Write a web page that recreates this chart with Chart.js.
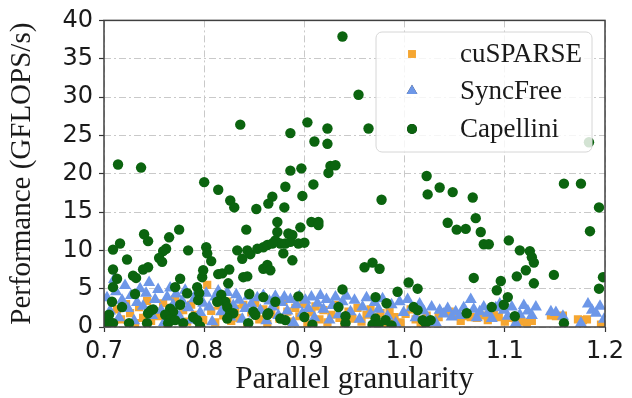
<!DOCTYPE html>
<html>
<head>
<meta charset="utf-8">
<script src="https://cdn.jsdelivr.net/npm/chart.js@4.4.0/dist/chart.umd.min.js"></script>
<style>
  html, body { margin: 0; padding: 0; background: #fff; }
</style>
</head>
<body>
<canvas id="chart" width="632" height="398"></canvas>
<script>
// series names and axis ticks
const seriesNames = ['cuSPARSE', 'SyncFree', 'Capellini'];
const xTicks = [0.7, 0.8, 0.9, 1.0, 1.1, 1.2];
const yTicks = [0, 5, 10, 15, 20, 25, 30, 35, 40];

// [parallel granularity, GFLOPS/s]
const cusparsePts = [
    [0.704, 1.5], [0.708, 0.6], [0.713, 2.3], [0.717, 1.0], [0.722, 3.0], [0.726, 1.8], [0.731, 0.5],
    [0.735, 2.6], [0.739, 1.2], [0.743, 3.4], [0.747, 0.8], [0.751, 2.0], [0.755, 1.4], [0.759, 3.1],
    [0.763, 0.4], [0.767, 2.5], [0.771, 3.6], [0.775, 1.1], [0.779, 2.2], [0.783, 0.7], [0.787, 2.9],
    [0.791, 1.6], [0.795, 3.8], [0.799, 0.9], [0.803, 5.5], [0.807, 2.1], [0.811, 0.6], [0.815, 2.8],
    [0.819, 1.5], [0.823, 3.3], [0.827, 0.8], [0.831, 2.4], [0.835, 1.2], [0.839, 2.9], [0.843, 0.5],
    [0.847, 1.9], [0.851, 3.1], [0.855, 1.0], [0.859, 2.3], [0.863, 0.4], [0.867, 1.7], [0.871, 2.8],
    [0.875, 1.1], [0.879, 3.4], [0.883, 2.0], [0.887, 0.7], [0.891, 2.5], [0.895, 1.4], [0.899, 3.0],
    [0.903, 0.5], [0.907, 1.9], [0.911, 2.7], [0.915, 1.0], [0.919, 2.2], [0.923, 0.6], [0.927, 1.6],
    [0.931, 2.9], [0.935, 1.2], [0.940, 0.4], [0.944, 2.0], [0.948, 1.1], [0.953, 2.5], [0.957, 0.7],
    [0.962, 1.6], [0.966, 2.3], [0.971, 0.9], [0.976, 1.8], [0.980, 0.5], [0.985, 2.1], [0.990, 1.3],
    [0.996, 0.6], [1.001, 1.7], [1.006, 2.3], [1.011, 1.0], [1.016, 0.4], [1.022, 1.5], [1.028, 0.7],
    [1.034, 1.3], [1.040, 1.9], [1.045, 2.0], [1.050, 1.6], [1.056, 0.8], [1.061, 1.4], [1.066, 1.3],
    [1.072, 1.2], [1.078, 1.5], [1.083, 0.9], [1.089, 1.7], [1.094, 1.3], [1.100, 0.7], [1.105, 1.2],
    [1.111, 0.6], [1.116, 0.7], [1.122, 0.6], [1.127, 0.8], [1.146, 1.5], [1.151, 1.4], [1.158, 1.5],
    [1.173, 1.0], [1.178, 0.9], [1.182, 1.0], [1.196, 0.3]
];

const syncfreePts = [
    [0.703, 3.8], [0.706, 2.1], [0.710, 6.2], [0.712, 4.6], [0.715, 1.2], [0.718, 3.5], [0.721, 5.4],
    [0.724, 2.4], [0.727, 4.1], [0.730, 0.8], [0.733, 3.2], [0.736, 5.0], [0.739, 2.7], [0.742, 4.4],
    [0.745, 5.8], [0.748, 1.5], [0.751, 3.6], [0.754, 4.9], [0.757, 2.2], [0.760, 0.6], [0.763, 3.9],
    [0.766, 5.1], [0.769, 2.9], [0.772, 4.3], [0.775, 1.4], [0.778, 3.4], [0.781, 4.8], [0.784, 2.5],
    [0.787, 0.9], [0.790, 3.7], [0.793, 4.6], [0.796, 1.9], [0.799, 3.1], [0.802, 4.4], [0.805, 2.6],
    [0.808, 0.7], [0.811, 3.9], [0.814, 4.7], [0.817, 2.0], [0.820, 3.3], [0.823, 4.5], [0.826, 1.3],
    [0.829, 2.8], [0.832, 4.2], [0.835, 3.5], [0.838, 1.0], [0.841, 2.4], [0.844, 4.0], [0.847, 3.0],
    [0.850, 1.7], [0.853, 3.8], [0.856, 2.2], [0.859, 4.1], [0.862, 0.8], [0.865, 3.4], [0.868, 2.6],
    [0.871, 4.0], [0.874, 1.5], [0.877, 3.2], [0.880, 3.9], [0.883, 2.1], [0.886, 3.6], [0.889, 0.6],
    [0.892, 2.9], [0.895, 4.0], [0.898, 1.8], [0.901, 3.5], [0.904, 2.4], [0.907, 3.9], [0.910, 1.2],
    [0.913, 3.1], [0.916, 4.1], [0.919, 2.3], [0.922, 3.6], [0.925, 0.9], [0.928, 2.8], [0.931, 3.9],
    [0.934, 1.6], [0.938, 3.3], [0.942, 4.0], [0.946, 2.0], [0.950, 3.5], [0.955, 1.0], [0.958, 2.6],
    [0.962, 3.8], [0.966, 1.7], [0.970, 3.2], [0.974, 2.3], [0.978, 3.7], [0.983, 1.4], [0.987, 2.9],
    [0.991, 0.5], [0.995, 3.3], [0.999, 1.9], [1.003, 3.6], [1.007, 2.5], [1.011, 1.2], [1.015, 3.0],
    [1.019, 2.1], [1.023, 1.0], [1.027, 2.6], [1.031, 0.6], [1.035, 2.2], [1.039, 1.7], [1.043, 2.4],
    [1.047, 1.3], [1.051, 2.0], [1.055, 1.5], [1.059, 2.5], [1.066, 3.6], [1.069, 2.3], [1.072, 1.2],
    [1.075, 2.0], [1.079, 2.6], [1.083, 1.8], [1.087, 1.1], [1.091, 2.5], [1.095, 3.0], [1.099, 2.2],
    [1.103, 1.4], [1.107, 2.6], [1.111, 0.5], [1.115, 1.6], [1.119, 2.8], [1.123, 2.1], [1.127, 1.5],
    [1.131, 2.6], [1.146, 2.0], [1.151, 1.9], [1.158, 1.4], [1.176, 0.5], [1.183, 3.0], [1.187, 2.2],
    [1.191, 1.8], [1.195, 2.7], [1.199, 1.0]
];

const capelliniPts = [
    [0.938, 37.9], [0.954, 30.3], [0.836, 26.4], [0.903, 26.7], [0.886, 25.3], [0.923, 25.9], [0.964, 25.9],
    [0.910, 24.2], [0.923, 23.9], [0.714, 21.2], [0.737, 20.8], [0.886, 20.4], [0.897, 20.7], [0.926, 21.0],
    [0.931, 21.1], [0.924, 20.1], [0.800, 18.9], [0.814, 17.9], [0.881, 18.3], [0.909, 18.6], [0.868, 17.0],
    [0.898, 17.1], [0.826, 16.5], [0.830, 15.6], [0.852, 15.4], [0.864, 16.1], [0.880, 15.6], [0.977, 16.6],
    [1.022, 19.7], [1.023, 17.3], [1.035, 18.2], [1.048, 17.6], [1.068, 16.9], [1.159, 18.7], [1.176, 18.7],
    [1.184, 24.1], [1.194, 15.6], [1.185, 12.5],
    [1.071, 14.2], [1.043, 13.6], [1.052, 12.7], [1.061, 12.8], [1.076, 12.4], [1.079, 10.8], [1.084, 10.8],
    [1.104, 11.3], [1.115, 10.0], [1.125, 9.9], [1.127, 9.1], [1.129, 8.4], [1.121, 7.4], [1.112, 6.6],
    [1.129, 5.7], [1.149, 6.8], [1.069, 6.4], [1.096, 6.0], [1.092, 4.8], [1.103, 3.9], [1.099, 2.9],
    [1.087, 2.6], [1.062, 1.8], [1.110, 1.4], [1.159, 0.5], [1.198, 6.5], [1.194, 5.0],
    [0.960, 7.8], [0.968, 8.4], [0.975, 7.6], [1.004, 5.8], [1.013, 5.0], [0.993, 4.6], [0.971, 3.9],
    [0.982, 3.1], [0.938, 4.9], [0.934, 2.6], [0.941, 1.4], [0.941, 0.5], [0.971, 1.1], [0.981, 0.9],
    [1.009, 2.6], [1.013, 2.2], [1.018, 0.9], [1.026, 0.9], [1.021, 0.5], [0.968, 0.3], [0.974, 0.3],
    [0.987, 0.2], [0.908, 0.3], [0.900, 1.3], [0.894, 4.0], [0.871, 3.3], [0.864, 1.8], [0.876, 1.1],
    [0.881, 0.9],
    [0.842, 12.7], [0.775, 12.7], [0.740, 12.1], [0.744, 11.2], [0.765, 11.7], [0.716, 10.9], [0.709, 10.1],
    [0.762, 10.2], [0.759, 9.9], [0.784, 10.0], [0.802, 10.4], [0.803, 9.6], [0.723, 8.8], [0.755, 9.0],
    [0.758, 8.5], [0.807, 8.6], [0.833, 10.0], [0.838, 8.9], [0.843, 10.0], [0.846, 9.5], [0.853, 10.2],
    [0.859, 10.4], [0.863, 10.7], [0.739, 7.5], [0.744, 7.8], [0.709, 7.5], [0.729, 6.7], [0.732, 6.4],
    [0.713, 6.3], [0.776, 6.3], [0.798, 6.5], [0.799, 7.4], [0.814, 6.9], [0.818, 7.0], [0.825, 7.5],
    [0.839, 6.5], [0.843, 6.6], [0.859, 7.6], [0.873, 13.7], [0.896, 13.0], [0.907, 13.7], [0.914, 13.7],
    [0.914, 13.3], [0.873, 12.4], [0.884, 12.2], [0.888, 12.0], [0.871, 11.3], [0.876, 10.9], [0.868, 10.9],
    [0.881, 10.9], [0.886, 11.1], [0.894, 10.9], [0.900, 11.0], [0.879, 9.6], [0.888, 8.7], [0.863, 8.1],
    [0.866, 7.4],
    [0.824, 5.7], [0.709, 5.2], [0.731, 4.3], [0.771, 5.2], [0.783, 4.4], [0.793, 5.2], [0.795, 4.4],
    [0.794, 3.5], [0.817, 4.2], [0.821, 3.3], [0.823, 2.6], [0.826, 1.8], [0.845, 4.3], [0.859, 3.9],
    [0.708, 3.3], [0.718, 2.6], [0.747, 2.2], [0.749, 2.3], [0.744, 1.8], [0.766, 2.4], [0.769, 2.0],
    [0.776, 2.9], [0.705, 1.6], [0.701, 1.1], [0.761, 1.6], [0.766, 1.0], [0.764, 0.5], [0.771, 0.9],
    [0.789, 1.3], [0.793, 0.9], [0.813, 3.3], [0.829, 1.8], [0.823, 1.1], [0.849, 2.0], [0.851, 1.6],
    [0.863, 1.6], [0.725, 0.5], [0.743, 0.5], [0.779, 0.5], [0.703, 0.3], [0.709, 0.5], [0.796, 0.1],
    [0.844, 0.5]
];

const colors = ['#f5a631', '#6d97e8', '#0b640f'];
const markers = ['rect', 'triangle', 'circle'];
const markerRadius = [5.8, 7, 5.2];

const serif = "'Liberation Serif', 'Times New Roman', serif";
const sans = "'DejaVu Sans', sans-serif";

const toXY = (pts) => pts.map(([x, y]) => ({ x, y }));

// box around the plot + legend panel inside the plot area
const framePlugin = {
    id: 'frameAndLegend',
    afterDatasetsDraw(chart) {
        const { ctx, chartArea: a } = chart;
        ctx.save();
        ctx.strokeStyle = '#404040';
        ctx.lineWidth = 1.5;
        ctx.strokeRect(a.left, a.top, a.right - a.left, a.bottom - a.top);

        // legend box
        const bx = 376, by = 32, bw = 216, bh = 120, r = 6;
        ctx.beginPath();
        ctx.roundRect(bx, by, bw, bh, r);
        ctx.fillStyle = 'rgba(255,255,255,0.82)';
        ctx.fill();
        ctx.strokeStyle = '#d6d6d6';
        ctx.lineWidth = 1;
        ctx.stroke();

        const rows = [54, 91, 129];
        const legendRadius = [5.6, 6.2, 5];
        ctx.font = '27px ' + serif;
        ctx.textBaseline = 'middle';
        ctx.textAlign = 'left';
        seriesNames.forEach((name, i) => {
            Chart.helpers.drawPoint(ctx, {
                pointStyle: markers[i],
                radius: legendRadius[i],
                borderWidth: 0,
                rotation: 0
            }, 412, rows[i]);
            ctx.fillStyle = colors[i];
            ctx.fill();
            ctx.fillStyle = '#1a1a1a';
            ctx.fillText(name, 460, rows[i] + 1);
        });
        ctx.restore();
    }
};

const gridStyle = {
    color: '#c9c9c9',
    lineWidth: 1,
    drawTicks: true,
    tickLength: 5,
    tickColor: '#333',
    tickWidth: 1.2
};

new Chart(document.getElementById('chart'), {
    type: 'scatter',
    data: {
        datasets: [cusparsePts, syncfreePts, capelliniPts].map((pts, i) => ({
            label: seriesNames[i],
            data: toXY(pts),
            pointStyle: markers[i],
            pointRadius: markerRadius[i],
            pointBackgroundColor: colors[i],
            pointBorderWidth: 0,
            order: 2 - i
        }))
    },
    options: {
        responsive: false,
        animation: false,
        devicePixelRatio: 1,
        layout: { padding: { left: 0, right: 27, top: 19, bottom: 0 } },
        plugins: {
            legend: { display: false },
            tooltip: { enabled: false }
        },
        scales: {
            x: {
                type: 'linear',
                min: xTicks[0],
                max: xTicks[xTicks.length - 1],
                afterBuildTicks: (s) => { s.ticks = xTicks.map(v => ({ value: v })); },
                afterFit: (s) => { s.height = 71; },
                ticks: {
                    color: '#1a1a1a',
                    padding: 5,
                    font: { family: sans, size: 24 },
                    callback: (v) => Number(v).toFixed(1)
                },
                grid: gridStyle,
                border: { display: false, dash: [7, 3, 2, 3] },
                title: {
                    display: true,
                    text: 'Parallel granularity',
                    color: '#1a1a1a',
                    padding: { top: 0, bottom: 0 },
                    font: { family: serif, size: 31 }
                }
            },
            y: {
                min: yTicks[0],
                max: yTicks[yTicks.length - 1],
                afterBuildTicks: (s) => { s.ticks = yTicks.map(v => ({ value: v })); },
                afterFit: (s) => { s.width = 104; },
                ticks: {
                    color: '#1a1a1a',
                    padding: 6,
                    font: { family: sans, size: 24 }
                },
                grid: gridStyle,
                border: { display: false, dash: [7, 3, 2, 3] },
                title: {
                    display: true,
                    text: 'Performance (GFLOPS/s)',
                    color: '#1a1a1a',
                    padding: { top: 5, bottom: 0 },
                    font: { family: serif, size: 29 }
                }
            }
        }
    },
    plugins: [framePlugin]
});
</script>
</body>
</html>
